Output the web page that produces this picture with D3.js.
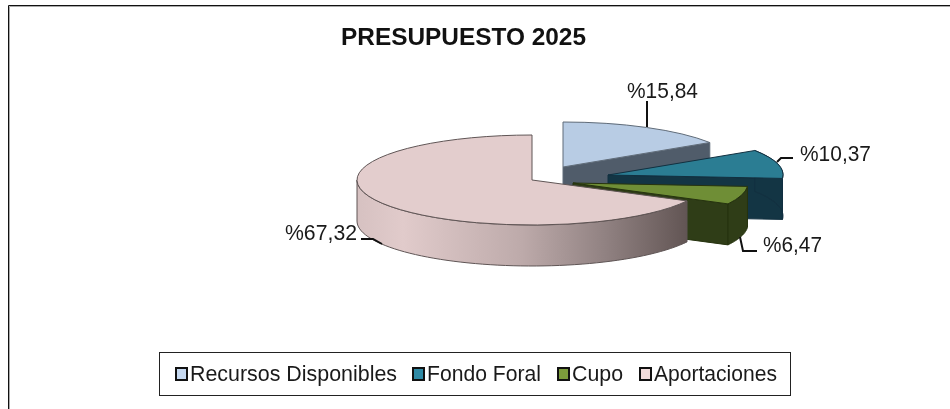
<!DOCTYPE html>
<html>
<head>
<meta charset="utf-8">
<script src="https://cdn.jsdelivr.net/npm/d3@7"></script>
<style>
  html, body { margin: 0; padding: 0; background: #fff; }
  svg { display: block; filter: blur(0.4px); }
  text { font-family: "Liberation Sans", Arial, sans-serif; fill: #1a1a1a; }
</style>
</head>
<body>
<script>
'use strict';

var title = 'PRESUPUESTO 2025';
var categories = ['Recursos Disponibles', 'Fondo Foral', 'Cupo', 'Aportaciones'];
var shares = [15.84, 10.37, 6.47, 67.32];
var shareLabels = ['%15,84', '%10,37', '%6,47', '%67,32'];

var topColors = ['#b8cce4', '#2b7d93', '#6f8e36', '#e3cdcd'];
var wallColors = ['#505c6a', '#133544', '#2f3d17', '#8f8080'];
var edgeColors = ['#5f6b78', '#123040', '#26330f', '#5f5555'];

// Setup: dimensions (ellipse of the tilted pie, and how far each slice is pulled out)
var width = 950, height = 409;
var rx = 175, ry = 45, depth = 41;
var centers = [[563, 167], [608, 175], [573, 183], [532, 180]];

var svg = d3.select('body').append('svg')
  .attr('width', width)
  .attr('height', height);

// Chart frame: only the top and left edges are in the picture
svg.append('path').attr('d', 'M8.5,409V5.5H950').attr('fill', 'none').attr('stroke', '#111').attr('stroke-width', 1);
svg.append('path').attr('d', 'M9.5,409V6.5H950').attr('fill', 'none').attr('stroke', '#aaa').attr('stroke-width', 1);

svg.append('text')
  .attr('x', 341)
  .attr('y', 45)
  .attr('font-size', 24)
  .attr('font-weight', 'bold')
  .attr('textLength', 245)
  .attr('lengthAdjust', 'spacingAndGlyphs')
  .style('fill', '#111')
  .text(title);

var pie = d3.pie().sort(null).value(function(d) { return d; });
var slices = pie(shares);

// Point on the rim of slice i at a given pie angle (0 is up, clockwise)
function rim(i, a) {
  return [centers[i][0] + rx * Math.sin(a), centers[i][1] - ry * Math.cos(a)];
}

var line = d3.line();
var arc = d3.arc().innerRadius(0).outerRadius(rx);

// Outer side of a slice between two angles, extruded downwards
function sidePath(i, a0, a1) {
  var n = 60;
  var upper = d3.range(n + 1).map(function(k) { return rim(i, a0 + (a1 - a0) * k / n); });
  var lower = upper.slice().reverse().map(function(p) { return [p[0], p[1] + depth]; });
  return line(upper.concat(lower)) + 'Z';
}

// Flat cut wall going from the centre to the rim at angle a
function wallPath(i, a) {
  var c = centers[i], p = rim(i, a);
  return line([c, p, [p[0], p[1] + depth], [c[0], c[1] + depth]]) + 'Z';
}

var defs = svg.append('defs');
var grad = defs.append('linearGradient')
  .attr('id', 'rimShade')
  .attr('gradientUnits', 'userSpaceOnUse')
  .attr('x1', centers[3][0] - rx)
  .attr('x2', rim(3, slices[3].startAngle)[0])
  .attr('y1', 0)
  .attr('y2', 0);
[[0, '#d6c1c1'], [0.14, '#e1cbcb'], [0.5, '#bdaaaa'], [0.75, '#918282'], [1, '#625554']].forEach(function(s) {
  grad.append('stop').attr('offset', s[0]).attr('stop-color', s[1]);
});

// Back to front, so nearer slices cover the ones behind them
slices.forEach(function(d, i) {
  var g = svg.append('g').attr('class', 'slice');
  var a0 = d.startAngle, a1 = d.endAngle;

  if (i < 3) {
    g.append('path')
      .attr('d', wallPath(i, a1))
      .attr('fill', wallColors[i])
      .attr('stroke', edgeColors[i]);
  }
  // Only the part of the rim on the lower half faces us
  var from = Math.max(a0, Math.PI / 2);
  var to = Math.min(a1, Math.PI * 1.5);
  if (i === 1) { from = a0; to = a1; }
  if (to > from) {
    g.append('path')
      .attr('d', sidePath(i, from, to))
      .attr('fill', i === 3 ? 'url(#rimShade)' : wallColors[i])
      .attr('stroke', edgeColors[i]);
  }
  g.append('path')
    .attr('d', arc(d))
    .attr('transform', 'translate(' + centers[i] + ') scale(1,' + (ry / rx) + ')')
    .attr('fill', topColors[i])
    .attr('stroke', edgeColors[i])
    .attr('stroke-width', 1)
    .attr('vector-effect', 'non-scaling-stroke');
});

// Data labels and their leader lines
var labelX = [627, 800, 763, 285];
var labelY = [98, 161, 252, 240];
var labelW = [71, 71, 59, 72];
var leaders = [
  [[647, 101], [647, 127]],
  [[777, 162], [781, 158], [793, 158]],
  [[740, 237], [743, 251], [757, 251]],
  [[361, 239], [373, 239], [382, 244]]
];

leaders.forEach(function(pts) {
  svg.append('path')
    .attr('d', line(pts))
    .attr('fill', 'none')
    .attr('stroke', '#111')
    .attr('stroke-width', 2);
});

shareLabels.forEach(function(t, i) {
  svg.append('text')
    .attr('x', labelX[i])
    .attr('y', labelY[i])
    .attr('font-size', 22)
    .attr('textLength', labelW[i])
    .attr('lengthAdjust', 'spacingAndGlyphs')
    .text(t);
});

// Legend
svg.append('rect')
  .attr('x', 159.5)
  .attr('y', 352.5)
  .attr('width', 631)
  .attr('height', 43)
  .attr('fill', '#fff')
  .attr('stroke', '#222');

var legendSwatchX = [175, 412, 557, 639];
var legendTextX = [190, 427, 572, 654];
var legendTextW = [207, 114, 51, 123];
var legendFill = ['#c6d9f1', '#2f8aa5', '#7c9c3c', '#f2dcdb'];

categories.forEach(function(name, i) {
  svg.append('rect')
    .attr('x', legendSwatchX[i] + 1)
    .attr('y', 368)
    .attr('width', 11)
    .attr('height', 12)
    .attr('fill', legendFill[i])
    .attr('stroke', '#111')
    .attr('stroke-width', 2);
  svg.append('text')
    .attr('x', legendTextX[i])
    .attr('y', 381)
    .attr('font-size', 22)
    .attr('textLength', legendTextW[i])
    .attr('lengthAdjust', 'spacingAndGlyphs')
    .text(name);
});
</script>
</body>
</html>
